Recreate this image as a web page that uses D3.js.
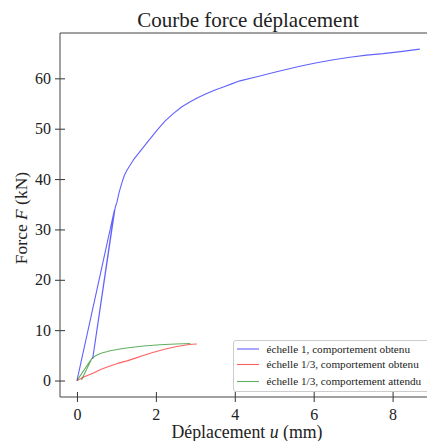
<!DOCTYPE html>
<html><head><meta charset="utf-8">
<script src="https://cdn.jsdelivr.net/npm/d3@7"></script>
<style>
html,body{margin:0;padding:0;background:#fff;overflow:hidden;}
svg{display:block;font-family:"Liberation Serif","DejaVu Serif",serif;}
</style></head>
<body>
<svg id="c" width="427" height="441"></svg>
<script>
const titleText = "Courbe force déplacement";
const xTicks = [0, 2, 4, 6, 8];
const yTicks = [0, 10, 20, 30, 40, 50, 60];
const seriesNames = ["échelle 1, comportement obtenu", "échelle 1/3, comportement obtenu", "échelle 1/3, comportement attendu"];

const blueX = [0, 0.95, 0.40, 0.97, 1.01, 1.07, 1.14, 1.20, 1.27, 1.35, 1.43, 1.69, 2.02, 2.23, 2.44, 2.65, 2.86, 3.07, 3.29, 3.50, 3.71, 3.92, 4.13, 4.56, 5.06, 5.65, 6.08, 6.50, 6.92, 7.34, 7.76, 8.20, 8.69];
const blueY = [0, 33.9, 4.4, 34.4, 35.3, 37.4, 39.3, 40.7, 41.8, 42.8, 43.8, 46.4, 49.6, 51.5, 53.0, 54.3, 55.3, 56.2, 57.0, 57.7, 58.3, 58.9, 59.5, 60.3, 61.3, 62.4, 63.1, 63.7, 64.2, 64.6, 64.9, 65.3, 65.8];

const redX = [0, 0.20, 0.42, 0.60, 0.80, 1.03, 1.27, 1.50, 1.70, 1.90, 2.10, 2.30, 2.50, 2.65, 2.80, 2.92, 3.04];
const redY = [0, 0.8, 1.5, 2.2, 2.8, 3.4, 3.9, 4.5, 5.0, 5.5, 5.95, 6.35, 6.7, 6.9, 7.1, 7.2, 7.25];

const greenX = [0, 0.38, 0.12, 0.38, 0.45, 0.55, 0.65, 0.75, 0.84, 0.95, 1.05, 1.30, 1.69, 2.10, 2.50, 2.87];
const greenY = [0, 4.4, 0.2, 4.4, 4.8, 5.2, 5.5, 5.7, 5.9, 6.05, 6.2, 6.5, 6.85, 7.1, 7.25, 7.35];

const colors = ["#0000ff", "#ff0000", "#008000"];

const svg = d3.select("#c");
const L = 60, R = 436, T = 33, B = 397;
const x = d3.scaleLinear().domain([-0.43, 9.1]).range([L, R]);
const y = d3.scaleLinear().domain([-3.27, 69.0]).range([B, T]);

svg.append("defs").append("clipPath").attr("id","clip")
  .append("rect").attr("x", L).attr("y", T).attr("width", R - L).attr("height", B - T);

const series = [
  {x: blueX, y: blueY},
  {x: redX, y: redY},
  {x: greenX, y: greenY}
];
const line = d3.line().x(d => x(d[0])).y(d => y(d[1]));
const g = svg.append("g").attr("clip-path", "url(#clip)");
series.forEach((s, i) => {
  const pts = s.x.map((v, k) => [v, s.y[k]]);
  g.append("path").attr("d", line(pts)).attr("fill", "none")
    .attr("stroke", colors[i]).attr("stroke-opacity", 0.62).attr("stroke-width", 1.1)
    .attr("stroke-linejoin", "round");
});

// axes
const xa = svg.append("g").attr("transform", `translate(0,${B})`)
  .call(d3.axisBottom(x).tickValues(xTicks).tickSize(5).tickPadding(6).tickFormat(d3.format("d")));
const ya = svg.append("g").attr("transform", `translate(${L},0)`)
  .call(d3.axisLeft(y).tickValues(yTicks).tickSize(5).tickPadding(4).tickFormat(d3.format("d")));
[xa, ya].forEach(a => {
  a.select(".domain").remove();
  a.selectAll("line").attr("stroke", "#333").attr("stroke-width", 1);
  a.selectAll("text").attr("fill", "#222").style("font-size", "16px").style("font-family", "'Liberation Serif',serif");
});
xa.selectAll(".tick line").attr("y1", -5).attr("y2", 5);
ya.selectAll(".tick line").attr("x1", -5).attr("x2", 5);
xa.selectAll(".tick text").attr("y", 12).attr("dy", "0.71em");
ya.selectAll(".tick text").attr("x", -9);

// spines
const sp = [[L, T, L, B], [L, B, R, B], [L, T, R, T], [R, T, R, B]];
sp.forEach(s => svg.append("line").attr("x1", s[0]).attr("y1", s[1]).attr("x2", s[2]).attr("y2", s[3])
  .attr("stroke", "#444").attr("stroke-width", 1));

// title
svg.append("text").attr("x", 248).attr("y", 27).attr("text-anchor", "middle")
  .attr("fill", "#222").style("font-size", "21px").text(titleText);

// x label
const xl = svg.append("text").attr("x", 247).attr("y", 438).attr("text-anchor", "middle")
  .attr("fill", "#222").style("font-size", "17.8px");
xl.append("tspan").text("Déplacement ");
xl.append("tspan").attr("font-style", "italic").text("u");
xl.append("tspan").text(" (mm)");

// y label
const yl = svg.append("text").attr("transform", "translate(27,218) rotate(-90)").attr("text-anchor", "middle")
  .attr("fill", "#222").style("font-size", "17.5px");
yl.append("tspan").text("Force ");
yl.append("tspan").attr("font-style", "italic").text("F");
yl.append("tspan").text(" (kN)");

// legend
const lg = svg.append("g");
lg.append("rect").attr("x", 233.5).attr("y", 340.5).attr("width", 200).attr("height", 51)
  .attr("rx", 2.5).attr("fill", "#fff").attr("fill-opacity", 0.85).attr("stroke", "#ccc").attr("stroke-width", 1);
const ly = [349, 364.5, 381.5];
seriesNames.forEach((n, i) => {
  lg.append("line").attr("x1", 237).attr("x2", 259).attr("y1", ly[i]).attr("y2", ly[i])
    .attr("stroke", colors[i]).attr("stroke-opacity", 0.62).attr("stroke-width", 1.1);
  lg.append("text").attr("x", 266.5).attr("y", ly[i]).attr("dy", "0.33em")
    .attr("fill", "#222").style("font-size", "11.2px").text(n);
});
</script>
</body></html>
